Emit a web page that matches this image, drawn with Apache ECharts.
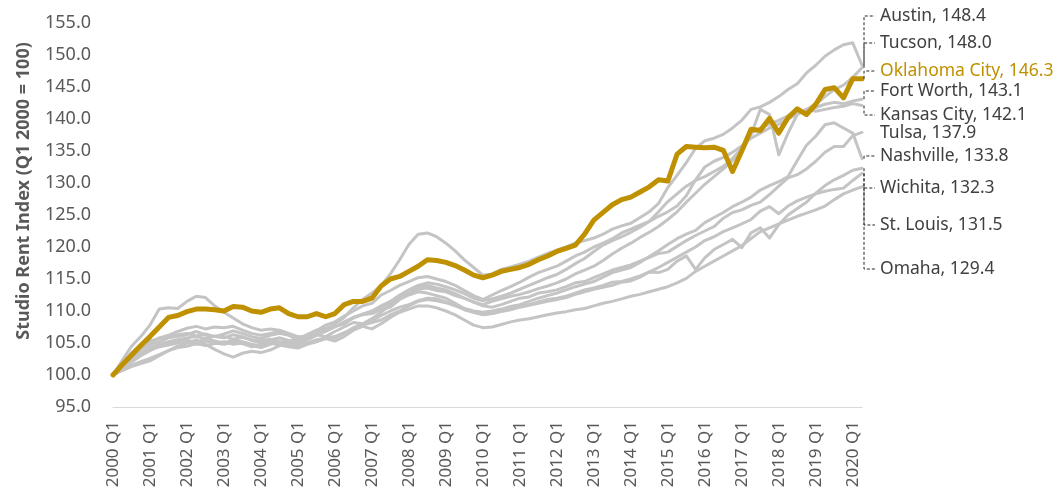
<!DOCTYPE html>
<html>
<head>
<meta charset="utf-8">
<title>Studio Rent Index</title>
<script src="https://cdn.jsdelivr.net/npm/echarts@6/dist/echarts.min.js"></script>
<style>
  html, body { margin: 0; padding: 0; background: #ffffff; }
  #chart { width: 1061px; height: 493px; }
</style>
</head>
<body>
<div id="chart"></div>
<script>
// Quarterly categories, 2000 Q1 through 2020 Q2
const quarters = [];
for (let y = 2000; y <= 2020; y++) {
  for (let q = 1; q <= 4; q++) {
    if (y === 2020 && q > 2) break;
    quarters.push(y + ' Q' + q);
  }
}

const yTicks = { min: 95, max: 155, step: 5 };

// Studio rent index by metro (Q1 2000 = 100), one value per quarter
const oklahomaCity = [
  100.0, 101.6, 103.1, 104.6, 106.0, 107.5, 109.0, 109.3, 109.9, 110.3, 110.3, 110.2,
  110.0, 110.7, 110.6, 110.0, 109.8, 110.3, 110.5, 109.6, 109.1, 109.1, 109.6, 109.1,
  109.6, 111.0, 111.5, 111.5, 112.0, 113.9, 115.0, 115.4, 116.2, 117.0, 118.0, 117.9,
  117.6, 117.1, 116.4, 115.6, 115.2, 115.6, 116.2, 116.5, 116.8, 117.3, 118.0, 118.6,
  119.3, 119.8, 120.3, 122.0, 124.2, 125.4, 126.6, 127.4, 127.8, 128.6, 129.4, 130.5,
  130.3, 134.5, 135.7, 135.6, 135.5, 135.6, 135.1, 131.8, 135.0, 138.4, 138.2, 140.1,
  137.8, 140.2, 141.6, 140.7, 142.3, 144.6, 144.9, 143.3, 146.3, 146.3
];
const austin = [
  100.0, 102.3, 104.5, 106.0, 107.8, 110.3, 110.5, 110.4, 111.5, 112.3, 112.1, 110.8,
  109.8, 108.9, 108.0, 107.4, 107.0, 107.2, 107.0, 106.5, 106.0, 105.8, 106.4, 107.2,
  108.0, 109.0, 110.5, 111.8, 112.8, 114.0, 115.8, 118.0, 120.4, 122.0, 122.2, 121.6,
  120.6, 119.4, 118.0, 116.8, 115.6, 115.8, 116.5, 116.9, 117.3, 117.8, 118.4, 119.0,
  119.5, 120.0, 120.6, 121.0, 121.4, 122.0, 122.8, 123.3, 123.7, 124.6, 125.5, 126.8,
  129.3, 131.2, 133.2, 135.4, 136.6, 137.0, 137.6, 138.6, 139.8, 141.5, 141.9, 142.6,
  143.5, 144.6, 145.5, 147.2, 148.4, 149.8, 150.8, 151.6, 151.9, 148.4
];
const tucson = [
  100.0, 101.5, 103.0, 104.2, 105.0, 105.8, 106.2, 106.8, 107.3, 107.6, 107.2, 107.5,
  107.4, 107.6, 107.0, 106.5, 106.2, 106.5, 106.8, 106.3, 105.8, 106.2, 106.9, 107.8,
  108.3, 109.2, 110.0, 110.8, 111.2, 112.5, 113.2, 114.0, 114.6, 115.2, 115.4, 115.0,
  114.6, 114.0, 113.2, 112.4, 111.8, 112.5, 113.2, 113.8, 114.5, 115.3, 116.0, 116.5,
  117.0, 117.8, 118.6, 119.2, 120.0, 120.6, 121.3, 122.2, 122.8, 123.4, 124.0, 124.8,
  125.5, 126.4, 128.0, 130.5, 132.5, 133.4, 134.0, 134.8, 135.8, 137.0, 137.8, 138.6,
  139.2, 140.0, 140.8, 141.5, 142.3, 143.5, 144.6, 145.3, 146.5, 148.0
];
const fortWorth = [
  100.0, 101.8, 103.5, 104.6, 105.3, 105.7, 106.0, 106.3, 106.5, 106.1, 106.4, 106.0,
  105.8, 106.3, 106.0, 105.5, 105.3, 105.6, 105.1, 105.4, 105.0, 105.5, 106.2, 106.8,
  107.5, 108.3, 109.0, 109.5, 110.0, 110.8, 111.5, 112.5, 113.3, 114.0, 114.4, 114.2,
  113.8, 113.3, 112.7, 112.0, 111.6, 111.9, 112.3, 112.8, 113.4, 114.0, 114.6, 115.2,
  115.7, 116.5, 117.4, 118.2, 119.3, 120.3, 121.0, 121.6, 122.3, 123.1, 124.0, 125.5,
  127.1, 128.3, 129.5, 130.4, 131.0, 131.8, 132.6, 133.8, 135.5, 137.8, 138.6, 139.2,
  139.8, 140.5, 141.5, 141.0, 141.8, 142.3, 142.6, 142.4, 142.8, 143.1
];
const kansasCity = [
  100.0, 101.2, 102.6, 103.5, 104.2, 104.8, 105.2, 105.5, 105.8, 106.0, 105.7, 106.1,
  106.0, 105.6, 105.9, 105.4, 105.0, 105.5, 105.8, 105.3, 105.6, 106.0, 106.5, 107.0,
  107.6, 108.0, 108.9, 109.5, 109.8, 110.5, 111.4, 112.2, 112.8, 113.4, 113.6, 113.2,
  113.0, 112.4, 112.0, 111.4, 111.0, 111.5, 111.9, 112.3, 112.6, 113.0, 113.5, 113.9,
  114.4, 115.0, 115.8, 116.4, 117.0, 117.9, 118.9, 119.8, 120.6, 121.5, 122.3, 123.2,
  124.3, 125.5, 127.0, 128.4, 129.8, 131.0, 132.2, 133.5, 135.0, 137.5, 141.5, 140.7,
  134.4, 137.8, 140.7, 141.5, 141.2, 141.5, 141.8, 142.0, 142.4, 142.1
];
const tulsa = [
  100.0, 101.0, 102.0, 103.0, 103.8, 104.5, 105.0, 105.2, 105.5, 105.0, 105.8, 105.3,
  105.0, 105.5, 105.2, 104.8, 104.5, 105.2, 105.8, 105.4, 105.2, 105.8, 106.3, 106.0,
  106.8, 107.5, 108.2, 108.0, 108.8, 109.8, 111.0, 112.3, 113.0, 113.8, 114.0, 113.6,
  113.3, 112.7, 112.0, 111.4, 110.8, 110.6, 111.0, 111.5, 112.0, 112.2, 112.8, 113.0,
  113.3, 113.8, 114.4, 114.6, 115.2, 115.8, 116.4, 116.8, 117.2, 117.8, 118.4, 119.0,
  119.2, 120.1, 121.0, 121.8, 122.5, 123.2, 124.5, 125.4, 125.8, 126.5, 127.0, 128.2,
  129.5, 130.8, 131.3, 132.2, 133.4, 134.8, 135.7, 135.7, 137.4, 137.9
];
const nashville = [
  100.0, 101.5, 102.8, 104.0, 104.7, 105.2, 105.8, 106.0, 106.3, 106.8, 106.3, 106.0,
  106.4, 106.9, 106.5, 106.0, 105.7, 106.2, 106.5, 106.2, 105.5, 106.3, 107.0, 107.3,
  107.6, 108.0, 109.0, 109.4, 109.6, 110.2, 110.6, 111.8, 112.5, 113.0, 112.8, 112.4,
  112.0, 111.2, 110.4, 110.0, 109.8, 110.0, 110.3, 110.7, 111.0, 111.5, 112.0, 112.4,
  112.8, 113.3, 113.8, 114.2, 114.6, 115.3, 116.0, 116.4, 116.8, 117.6, 118.5, 119.4,
  120.4, 121.3, 122.0, 122.6, 123.8, 124.6, 125.4, 126.3, 127.0, 127.8, 128.9, 129.6,
  130.2, 131.0, 133.5, 135.9, 137.3, 139.1, 139.4, 138.6, 137.8, 133.8
];
const wichita = [
  100.0, 100.8, 101.5, 102.1, 102.6, 103.2, 103.8, 104.3, 104.5, 104.9, 104.6, 104.9,
  105.2, 104.8, 105.0, 104.6, 104.3, 104.8, 105.2, 104.8, 104.5, 104.9, 105.4, 105.8,
  106.0, 106.6, 107.2, 107.8, 108.2, 108.6, 109.4, 110.0, 110.8, 111.5, 111.8, 111.6,
  111.3, 110.8, 110.3, 109.8, 109.4, 109.6, 110.0, 110.3, 110.8, 111.0, 111.4, 111.8,
  112.0, 112.3, 112.8, 113.3, 113.6, 114.0, 114.5, 114.6, 115.0, 115.5, 116.1, 116.0,
  116.5, 117.8, 118.6, 116.5, 118.3, 119.6, 120.4, 121.2, 119.9, 122.2, 123.0, 121.4,
  123.5, 125.0, 126.0, 127.0, 128.4, 129.6, 130.5, 131.2, 132.0, 132.3
];
const stLouis = [
  100.0, 101.3, 102.5, 103.4, 104.0, 104.4, 104.7, 105.0, 105.1, 104.8, 105.3, 105.0,
  104.8, 105.1, 104.9, 104.4, 104.6, 105.0, 104.7, 104.4, 104.2, 104.8, 105.2, 105.7,
  105.8, 106.5, 107.4, 108.0, 108.5, 109.3, 110.0, 110.6, 111.0, 111.6, 112.0, 111.9,
  111.4, 110.9, 110.2, 109.8, 109.5, 109.6, 109.9, 110.2, 110.6, 110.9, 111.2, 111.5,
  111.8, 112.1, 112.6, 113.0, 113.4, 113.7, 114.0, 114.5, 114.7, 115.3, 116.1, 116.8,
  117.6, 118.4, 119.2, 120.0, 121.0, 121.6, 122.4, 123.0, 123.6, 124.3, 125.6, 126.3,
  125.2, 126.4, 127.2, 127.8, 128.3, 128.7, 129.0, 129.2, 130.4, 131.5
];
const omaha = [
  100.0, 100.7, 101.3, 101.8, 102.2, 103.0, 103.8, 104.5, 105.0, 105.5, 104.8, 104.0,
  103.3, 102.8, 103.4, 103.7, 103.5, 103.9, 104.6, 105.0, 104.6, 105.0, 105.5, 105.7,
  105.3, 106.0, 107.0, 107.6, 107.2, 108.0, 109.0, 109.8, 110.3, 110.8, 110.8, 110.5,
  110.0, 109.4, 108.6, 107.8, 107.4, 107.5, 107.9, 108.3, 108.6, 108.8, 109.1, 109.4,
  109.7, 109.9, 110.2, 110.4, 110.8, 111.2, 111.5, 111.9, 112.3, 112.6, 113.0, 113.4,
  113.8, 114.4, 115.1, 116.2, 117.0, 117.8, 118.6, 119.4, 120.2, 121.3, 122.4, 123.0,
  123.6, 124.2, 124.8, 125.3, 125.8, 126.4, 127.4, 128.3, 128.9, 129.4
];

// Metros drawn in grey underneath, then the highlighted metro on top
const metros = [
  { name: 'Austin', values: austin },
  { name: 'Tucson', values: tucson },
  { name: 'Fort Worth', values: fortWorth },
  { name: 'Kansas City', values: kansasCity },
  { name: 'Tulsa', values: tulsa },
  { name: 'Nashville', values: nashville },
  { name: 'Wichita', values: wichita },
  { name: 'St. Louis', values: stLouis },
  { name: 'Omaha', values: omaha },
  { name: 'Oklahoma City', values: oklahomaCity, highlight: true }
];

// Layout of the end-of-line callouts: text rows stacked in the right margin
const calloutLayout = {
  textLeft: 880,
  rows: {
    'Austin': 16, 'Tucson': 43, 'Oklahoma City': 71, 'Fort Worth': 91,
    'Kansas City': 115, 'Tulsa': 133, 'Nashville': 156, 'Wichita': 188,
    'St. Louis': 225, 'Omaha': 269
  }
};

const GOLD = '#BF9000';
const GREY = '#C4C4C4';
const TEXT = '#595959';
const CALLOUT = '#404040';
const LEADER = '#262626';
const FONT = '"Noto Sans", "Open Sans", sans-serif';

const chart = echarts.init(document.getElementById('chart'), null, { renderer: 'canvas' });

const series = metros.map(function (m) {
  const last = m.values.length - 1;
  const data = m.values.map(function (v, i) {
    if (i !== last) return v;
    return { value: v, label: { show: true } };
  });
  const rowY = calloutLayout.rows[m.name];
  return {
    name: m.name,
    type: 'line',
    data: data,
    z: m.highlight ? 5 : 2,
    showSymbol: true,
    showAllSymbol: true,
    symbol: 'circle',
    symbolSize: 0,
    itemStyle: { color: m.highlight ? GOLD : GREY },
    lineStyle: { color: m.highlight ? GOLD : GREY, width: m.highlight ? 5 : 3, cap: 'round', join: 'round' },
    emphasis: { disabled: true },
    label: {
      show: false,
      formatter: function (p) { return m.name + ', ' + p.value.toFixed(1); },
      color: m.highlight ? GOLD : CALLOUT,
      fontFamily: FONT,
      fontSize: 17.5
    },
    labelLine: { show: false },
    labelLayout: function () {
      return { x: calloutLayout.textLeft, y: rowY, align: 'left', verticalAlign: 'middle' };
    }
  };
});

chart.setOption({
  animation: false,
  backgroundColor: '#ffffff',
  grid: { left: 113, right: 199, top: 23, bottom: 86, containLabel: false },
  xAxis: {
    type: 'category',
    data: quarters,
    boundaryGap: false,
    axisLine: { show: true, lineStyle: { color: '#D9D9D9', width: 1 } },
    axisTick: { show: false },
    axisLabel: {
      interval: 3,
      rotate: 90,
      margin: 14,
      color: TEXT,
      fontFamily: FONT,
      fontSize: 17
    },
    splitLine: { show: false }
  },
  yAxis: {
    type: 'value',
    min: yTicks.min,
    max: yTicks.max,
    interval: yTicks.step,
    name: 'Studio Rent Index (Q1 2000 = 100)',
    nameLocation: 'middle',
    nameRotate: 90,
    nameGap: 80,
    nameTextStyle: {
      color: TEXT,
      fontFamily: FONT,
      fontSize: 18,
      fontWeight: 'bold',
      padding: [0, 0, 0, 48]
    },
    axisLine: { show: false },
    axisTick: { show: false },
    splitLine: { show: false },
    axisLabel: {
      margin: 22,
      color: TEXT,
      fontFamily: FONT,
      fontSize: 18,
      formatter: function (v) { return v.toFixed(1); }
    }
  },
  series: series
});

// Dashed elbow leaders from each line end to its callout row
const leaders = [];
metros.forEach(function (m) {
  const last = m.values.length - 1;
  const pt = chart.convertToPixel({ gridIndex: 0 }, [last, m.values[last]]);
  const rowY = calloutLayout.rows[m.name];
  if (Math.abs(rowY - pt[1]) <= 2) return;
  const bendX = pt[0] + 2;
  leaders.push({
    type: 'polyline',
    z: 10,
    silent: true,
    shape: { points: [[bendX, pt[1]], [bendX, rowY], [calloutLayout.textLeft - 5, rowY]] },
    style: { stroke: LEADER, lineWidth: 1, lineDash: [3, 2], fill: null }
  });
});
chart.setOption({ graphic: leaders });
</script>
</body>
</html>
